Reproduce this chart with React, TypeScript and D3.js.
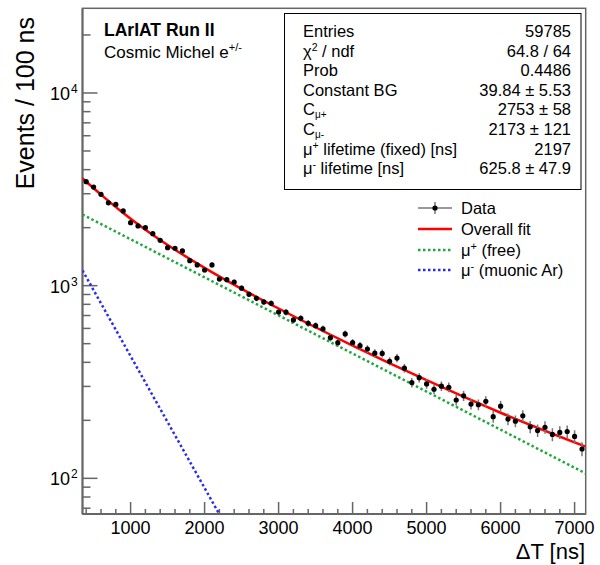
import React from 'react';
import * as d3 from 'd3';

// histogram bins (centre of each 100 ns bin) and counts
const binCenters = [
  400, 500, 600, 700, 800, 900, 1000, 1100, 1200, 1300, 1400, 1500, 1600, 1700, 1800, 1900,
  2000, 2100, 2200, 2300, 2400, 2500, 2600, 2700, 2800, 2900, 3000, 3100, 3200, 3300, 3400, 3500,
  3600, 3700, 3800, 3900, 4000, 4100, 4200, 4300, 4400, 4500, 4600, 4700, 4800, 4900, 5000, 5100,
  5200, 5300, 5400, 5500, 5600, 5700, 5800, 5900, 6000, 6100, 6200, 6300, 6400, 6500, 6600, 6700,
  6800, 6900, 7000, 7100,
];
const counts = [
  3465, 3250, 2980, 2690, 2640, 2442, 2123, 2041, 2000, 1861, 1720, 1575, 1564, 1514, 1348, 1281,
  1206, 1281, 1083, 1074, 1045, 970, 902, 860, 823, 810, 730, 728, 664, 677, 638, 620,
  596, 537, 506, 562, 506, 488, 469, 446, 445, 405, 421, 373, 314, 333, 309, 290,
  301, 297, 255, 268, 243, 241, 251, 209, 237, 203, 198, 211, 185, 177, 184, 169,
  173, 175, 165, 142,
];

// fit curves, values
const fitT = [350, 600, 900, 1200, 1600, 2000, 2500, 3000, 4000, 5000, 6000, 7150];
const fitTotal = [3600, 2968, 2383, 1953, 1537, 1237, 962, 761, 489, 323, 219, 146];
const muPlusT = [350, 7150];
const muPlusV = [2340, 106];
const muMinusT = [350, 2200];
const muMinusV = [1200, 65];

const xMajor = [1000, 2000, 3000, 4000, 5000, 6000, 7000];
const yMajor = [100, 1000, 10000];
const yExp = ['2', '3', '4'];

const statsLabels = ['Entries', 'chi2', 'Prob', 'Constant BG', 'Cmu+', 'Cmu-', 'tau+', 'tau-'];
const statsValues = ['59785', '64.8 / 64', '0.4486', '39.84 ± 5.53', '2753 ± 58', '2173 ± 121', '2197', '625.8 ± 47.9'];

const FONT = '"Liberation Sans", Arial, Helvetica, sans-serif';
const AXIS = '#666';

const App = () => {
  const left = 82.5, right = 585.7, top = 8.3, bottom = 514;

  const x = d3.scaleLinear().domain([350, 7150]).range([left, right]);
  const y = d3.scaleLog().domain([65.3, 27510]).range([bottom, top]);

  const xMinor = d3.range(400, 7150, 200).filter(v => v % 1000 !== 0);
  const yMinor: number[] = [];
  [10, 100, 1000, 10000].forEach(dec => {
    for (let k = 2; k <= 9; k++) {
      const v = dec * k;
      if (v > 65.3 && v < 27510) yMinor.push(v);
    }
  });

  const fitLine = d3.line<number>()
    .x((_, i) => x(fitT[i]))
    .y(d => y(d))
    .curve(d3.curveMonotoneX);
  const plusLine = d3.line<number>().x((_, i) => x(muPlusT[i])).y(d => y(d));
  const minusLine = d3.line<number>().x((_, i) => x(muMinusT[i])).y(d => y(d));

  const statLabel = (k: string) => {
    switch (k) {
      case 'chi2':
        return (<>χ<tspan dy={-6} fontSize={10.5}>2</tspan><tspan dy={6}> / ndf</tspan></>);
      case 'Cmu+':
        return (<>C<tspan dy={3} fontSize={10}>μ+</tspan></>);
      case 'Cmu-':
        return (<>C<tspan dy={3} fontSize={10}>μ-</tspan></>);
      case 'tau+':
        return (<>μ<tspan dy={-6} fontSize={10.5}>+</tspan><tspan dy={6}> lifetime (fixed) [ns]</tspan></>);
      case 'tau-':
        return (<>μ<tspan dy={-6} fontSize={10.5}>-</tspan><tspan dy={6}> lifetime [ns]</tspan></>);
      default:
        return k;
    }
  };

  const legX0 = 418, legX1 = 452, legTextX = 461;
  const legY = [208, 229, 250, 270];

  return (
    <svg width={600} height={565} style={{ position: 'absolute', left: 0, top: 0, background: '#fff' }} fontFamily={FONT}>
      <defs>
        <clipPath id="frame">
          <rect x={left} y={top} width={right - left} height={bottom - top} />
        </clipPath>
      </defs>

      {/* frame */}
      <rect x={left} y={top} width={right - left} height={bottom - top} fill="none" stroke={AXIS} strokeWidth={1.5} />
      <line x1={left} x2={left} y1={top} y2={bottom} stroke={AXIS} strokeWidth={2} />
      <line x1={left} x2={right} y1={bottom} y2={bottom} stroke={AXIS} strokeWidth={2} />

      {/* x ticks */}
      {xMajor.map(v => (
        <g key={'xM' + v}>
          <line x1={x(v)} x2={x(v)} y1={bottom} y2={bottom - 12} stroke={AXIS} strokeWidth={1.5} />
          <text x={x(v)} y={534} textAnchor="middle" fontSize={18} fill="#000">{v}</text>
        </g>
      ))}
      {xMinor.map(v => (
        <line key={'xm' + v} x1={x(v)} x2={x(v)} y1={bottom} y2={bottom - 5} stroke={AXIS} strokeWidth={1.5} />
      ))}

      {/* y ticks */}
      {yMajor.map((v, i) => (
        <g key={'yM' + v}>
          <line x1={left} x2={left + 15} y1={y(v)} y2={y(v)} stroke={AXIS} strokeWidth={1.5} />
          <text x={70} y={y(v) + 7} textAnchor="end" fontSize={18} fill="#000">10</text>
          <text x={71} y={y(v)} fontSize={12} fill="#000">{yExp[i]}</text>
        </g>
      ))}
      {yMinor.map(v => (
        <line key={'ym' + v} x1={left} x2={left + 8} y1={y(v)} y2={y(v)} stroke={AXIS} strokeWidth={1.5} />
      ))}

      {/* axis titles */}
      <text x={585} y={559} textAnchor="end" fontSize={22} fill="#000">ΔT [ns]</text>
      <text transform="translate(34,17) rotate(-90)" textAnchor="end" fontSize={25} fill="#000">Events / 100 ns</text>

      {/* curves and data */}
      <g clipPath="url(#frame)">
        <path d={plusLine(muPlusV) || ''} fill="none" stroke="#1fa83a" strokeWidth={2.5} strokeDasharray="2.5,2.5" />
        <path d={minusLine(muMinusV) || ''} fill="none" stroke="#2b2bf0" strokeWidth={2.5} strokeDasharray="2.5,2.5" />
        <path d={fitLine(fitTotal) || ''} fill="none" stroke="#f00" strokeWidth={2.5} />
        {binCenters.map((t, i) => {
          const n = counts[i];
          const e = Math.sqrt(n);
          return (
            <g key={'p' + t}>
              <line x1={x(t)} x2={x(t)} y1={y(n + e)} y2={y(n - e)} stroke="#777" strokeWidth={1.5} />
              <circle cx={x(t)} cy={y(n)} r={2.6} fill="#000" />
            </g>
          );
        })}
      </g>

      {/* label */}
      <text x={104} y={36} fontSize={17.5} fontWeight="bold" fill="#000">LArIAT Run II</text>
      <text x={104} y={58} fontSize={17} fill="#000">Cosmic Michel e<tspan dy={-7} fontSize={11}>+/-</tspan></text>

      {/* stats box */}
      <rect x={284.5} y={13.5} width={296.5} height={176} fill="#fff" stroke="#000" strokeWidth={1} />
      {statsLabels.map((k, i) => (
        <g key={'s' + k}>
          <text x={303} y={37 + i * 19.6} fontSize={16.5} fill="#000">{statLabel(k)}</text>
          <text x={571} y={37 + i * 19.6} fontSize={16.5} textAnchor="end" fill="#000">{statsValues[i]}</text>
        </g>
      ))}

      {/* legend */}
      <line x1={legX0} x2={legX1} y1={legY[0]} y2={legY[0]} stroke="#777" strokeWidth={1.5} />
      <line x1={(legX0 + legX1) / 2} x2={(legX0 + legX1) / 2} y1={legY[0] - 6} y2={legY[0] + 6} stroke="#777" strokeWidth={1.5} />
      <circle cx={(legX0 + legX1) / 2} cy={legY[0]} r={2.6} fill="#000" />
      <line x1={legX0} x2={legX1} y1={legY[1]} y2={legY[1]} stroke="#f00" strokeWidth={2.5} />
      <line x1={legX0} x2={legX1} y1={legY[2]} y2={legY[2]} stroke="#1fa83a" strokeWidth={2.5} strokeDasharray="2.5,2.5" />
      <line x1={legX0} x2={legX1} y1={legY[3]} y2={legY[3]} stroke="#2b2bf0" strokeWidth={2.5} strokeDasharray="2.5,2.5" />
      <text x={legTextX} y={legY[0] + 6} fontSize={16.5} fill="#000">Data</text>
      <text x={legTextX} y={legY[1] + 6} fontSize={16.5} fill="#000">Overall fit</text>
      <text x={legTextX} y={legY[2] + 6} fontSize={16.5} fill="#000">μ<tspan dy={-6} fontSize={11}>+</tspan><tspan dy={6}> (free)</tspan></text>
      <text x={legTextX} y={legY[3] + 6} fontSize={16.5} fill="#000">μ<tspan dy={-6} fontSize={11}>-</tspan><tspan dy={6}> (muonic Ar)</tspan></text>
    </svg>
  );
};

export default App;
